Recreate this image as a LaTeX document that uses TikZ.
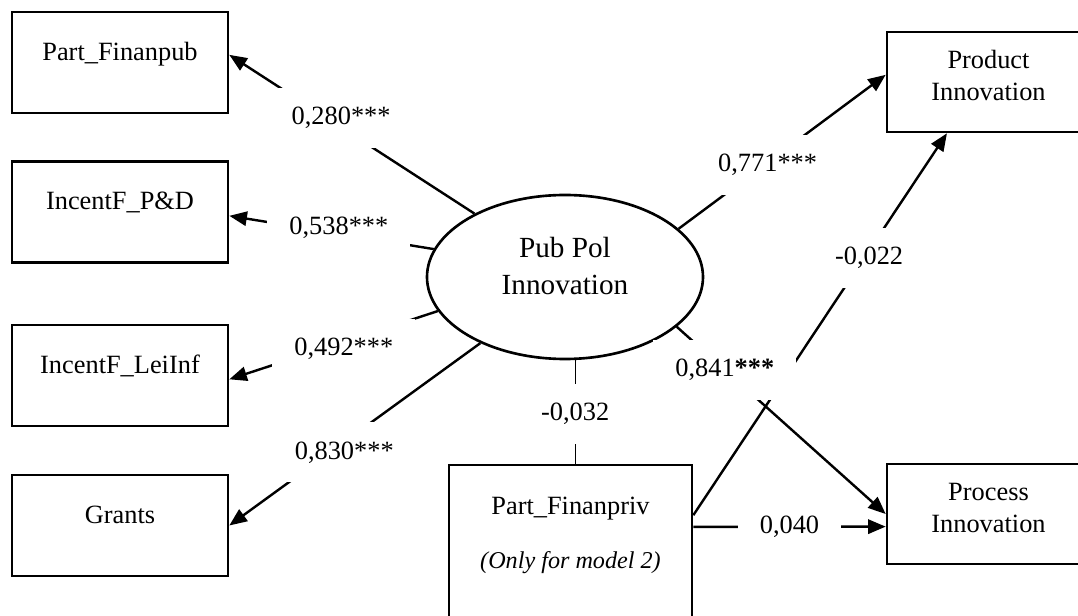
\documentclass[tikz,border=0pt]{standalone}
\usepackage{fontspec}
\setmainfont{Liberation Serif}
\usetikzlibrary{
        arrows.meta,
        shapes.geometric
    }
\tikzset{>={Triangle[length=8pt,width=6.5pt]}}
\tikzset{
    indicator/.style={draw,line width=1.2pt,minimum width=3.456cm,minimum height=1.616cm,
        text height=8pt,text depth=10pt},
    outcome/.style={draw,line width=1.2pt,minimum width=3.248cm,minimum height=1.6cm,
        align=center,text height=20pt,text depth=3.5pt},
    latent/.style={draw,ellipse,line width=1.2pt,minimum width=4.416cm,minimum height=2.624cm,
        inner sep=0pt,align=center,font=\fontsize{13.3}{16.8}\selectfont,
        text height=20pt,text depth=3.9pt},
    coef/.style={fill=white,inner xsep=10pt,minimum height=0.96cm}
}

\begin{document}
\begin{tikzpicture}[line width=1.1pt,font=\fontsize{12}{14.4}\selectfont]
    \useasboundingbox (0,0) rectangle (17.248,9.84);
    \clip (0,0) rectangle (17.248,9.84);

    % indicators of the latent variable
    \node[indicator] (pub)    at (1.92,8.84)  {Part\_Finanpub};
    \node[indicator] (pd)     at (1.92,6.448) {IncentF\_P\&D};
    \node[indicator] (lei)    at (1.92,3.832) {IncentF\_LeiInf};
    \node[indicator] (grants) at (1.92,1.432) {Grants};

    \node[latent] (ell) at (9.04,5.408) {Pub Pol\\Innovation};

    % outcomes
    \node[outcome] (prod) at (15.816,8.528) {Product\\Innovation};
    \node[outcome] (proc) at (15.816,1.616) {Process\\Innovation};

    \node[draw,line width=1.2pt,minimum width=3.888cm,minimum height=2.96cm,
        align=center,text height=20pt,text depth=10.4pt] (priv) at (9.128,0.92)
        {Part\_Finanpriv\\[10pt]{\fontsize{11}{13.2}\selectfont\itshape (Only for model 2)}};

    % loadings
    \draw[->] (ell.145) -- node[coef,pos=.544,yshift=4.2pt] {0,280***} (pub.4);
    \draw[->] (ell.168) -- node[coef,pos=.464,yshift=2.9pt] {0,538***} (pd.358);
    \draw[->] (ell.195) -- node[coef,pos=.451,yshift=-3.1pt] {0,492***} (lei.358);
    \draw[->] (ell.218) -- node[coef,pos=.542,yshift=-4.7pt] {0,830***} (grants.east);

    % paths to the outcomes
    \draw[->] (ell.23) -- node[coef,pos=.43,yshift=-1pt] {0,771***} (prod.176);
    \draw[->] (priv.19) -- node[coef,pos=.674,xshift=2.2pt] {-0,022} (prod.231);
    \draw[->] (ell.336) -- node[coef,pos=.23] {0,841\textbf{***}} (proc.west);
    \draw[line width=.5pt] (ell.277) -- node[coef,pos=.52] {-0,032} (ell.277 |- priv.north);
    \draw[->] (priv.14) -- node[coef,pos=.5] {0,040} (proc.187);
\end{tikzpicture}
\end{document}
